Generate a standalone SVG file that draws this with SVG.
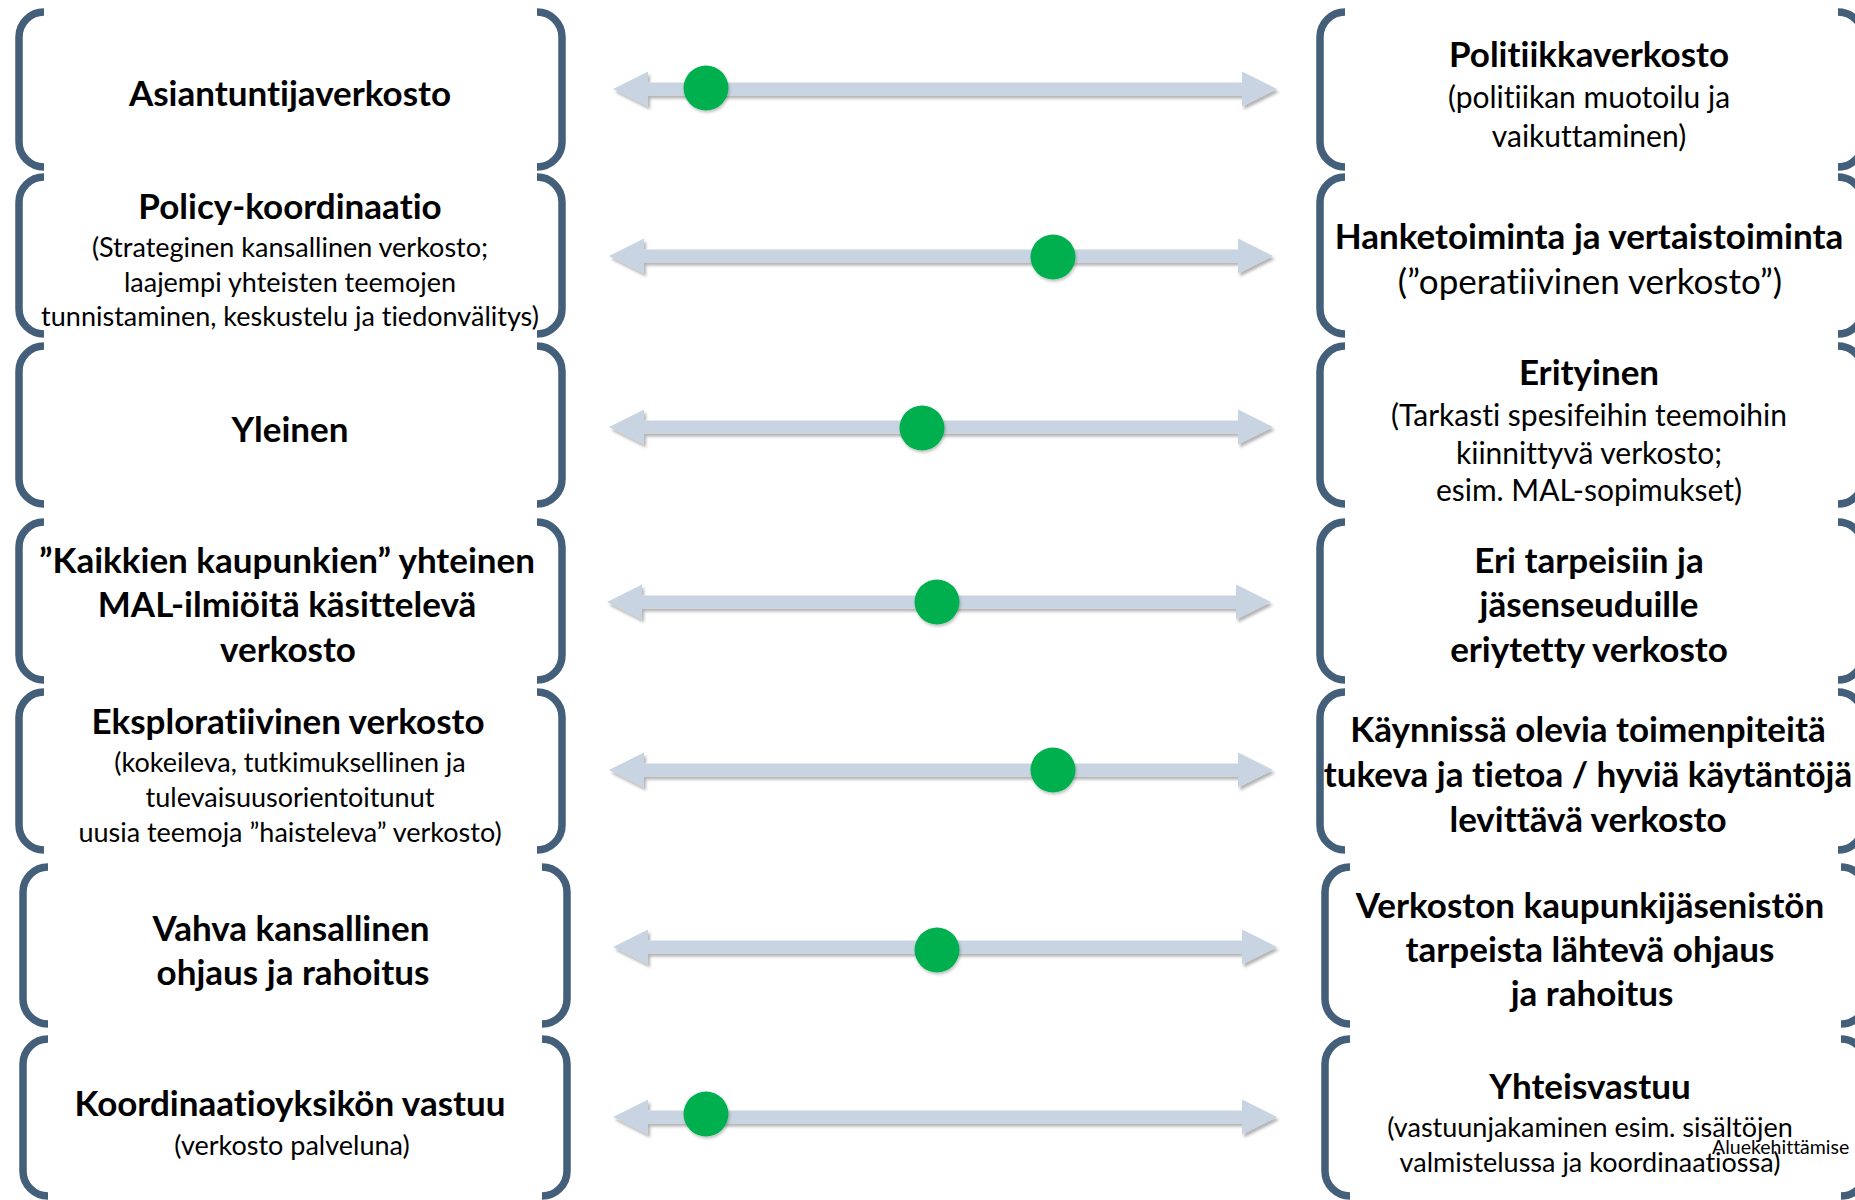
<svg xmlns="http://www.w3.org/2000/svg" width="1855" height="1200" viewBox="0 0 1855 1200">
<style>
.br{fill:none;stroke:#445F7A;stroke-width:7.5}
.t{font-family:Lato,'Open Sans','Liberation Sans',sans-serif;text-anchor:middle;fill:#000;font-variant-ligatures:none;font-feature-settings:"liga" 0,"clig" 0}
.b{font-weight:700;font-size:35px}
.r{font-size:27px}
.r3{font-size:30px}
.r2{font-size:35px}
.sm{font-family:Lato,'Open Sans','Liberation Sans',sans-serif;font-size:19.5px;fill:#000;font-variant-ligatures:none;font-feature-settings:"liga" 0,"clig" 0}
.arr{fill:#C8D4E1;filter:url(#sh)}
.dot{fill:#00B050;filter:url(#dsh)}
</style>
<defs>
<filter id="sh" x="-5%" y="-50%" width="110%" height="200%"><feDropShadow dx="2" dy="3" stdDeviation="1.5" flood-color="#000" flood-opacity="0.3"/></filter>
<filter id="dsh" x="-30%" y="-30%" width="160%" height="160%"><feDropShadow dx="1" dy="2" stdDeviation="1.5" flood-color="#000" flood-opacity="0.25"/></filter>
<path id="arrow" d="M0,0 L35,-17.5 L35,-6.5 L629,-6.5 L629,-17.5 L664,0 L629,17.5 L629,6.5 L35,6.5 L35,17.5 Z"/>
</defs>
<rect width="1855" height="1200" fill="#fff"/>

<g id="connectors">
<use href="#arrow" class="arr" transform="translate(613,89)"/>
<use href="#arrow" class="arr" transform="translate(609,256)"/>
<use href="#arrow" class="arr" transform="translate(609,427)"/>
<use href="#arrow" class="arr" transform="translate(607,602)"/>
<use href="#arrow" class="arr" transform="translate(609,770)"/>
<use href="#arrow" class="arr" transform="translate(613,947)"/>
<use href="#arrow" class="arr" transform="translate(613,1117)"/>
</g>
<g id="markers">
<circle class="dot" cx="706" cy="88" r="22.5"/>
<circle class="dot" cx="1053" cy="257" r="22.5"/>
<circle class="dot" cx="922" cy="428" r="22.5"/>
<circle class="dot" cx="937" cy="602" r="22.5"/>
<circle class="dot" cx="1053" cy="770" r="22.5"/>
<circle class="dot" cx="937" cy="950" r="22.5"/>
<circle class="dot" cx="706" cy="1114" r="22.5"/>
</g>

<g id="left1">
<path class="br" d="M44,12 A25,25 0 0 0 19,37 V142 A25,25 0 0 0 44,167"/>
<path class="br" d="M537,12 A25,25 0 0 1 562,37 V142 A25,25 0 0 1 537,167"/>
<text class="t b" x="290" y="106">Asiantuntijaverkosto</text>
</g>
<g id="right1">
<path class="br" d="M1345,12 A25,25 0 0 0 1320,37 V142 A25,25 0 0 0 1345,167"/>
<path class="br" d="M1838,12 A25,25 0 0 1 1863,37 V142 A25,25 0 0 1 1838,167"/>
<text class="t b" x="1589" y="67">Politiikkaverkosto</text>
<text class="t r3" x="1589" y="108">(politiikan muotoilu ja</text>
<text class="t r3" x="1589" y="147">vaikuttaminen)</text>
</g>

<g id="left2">
<path class="br" d="M44,177 A25,25 0 0 0 19,202 V309 A25,25 0 0 0 44,334"/>
<path class="br" d="M537,177 A25,25 0 0 1 562,202 V309 A25,25 0 0 1 537,334"/>
<text class="t b" x="290" y="219">Policy-koordinaatio</text>
<text class="t r" x="290" y="257">(Strateginen kansallinen verkosto;</text>
<text class="t r" x="290" y="292">laajempi yhteisten teemojen</text>
<text class="t r" x="290" y="326">tunnistaminen, keskustelu ja tiedonvälitys)</text>
</g>
<g id="right2">
<path class="br" d="M1345,177 A25,25 0 0 0 1320,202 V309 A25,25 0 0 0 1345,334"/>
<path class="br" d="M1838,177 A25,25 0 0 1 1863,202 V309 A25,25 0 0 1 1838,334"/>
<text class="t b" x="1589" y="249">Hanketoiminta ja vertaistoiminta</text>
<text class="t r2" x="1590" y="294">(”operatiivinen verkosto”)</text>
</g>

<g id="left3">
<path class="br" d="M44,346 A25,25 0 0 0 19,371 V479 A25,25 0 0 0 44,504"/>
<path class="br" d="M537,346 A25,25 0 0 1 562,371 V479 A25,25 0 0 1 537,504"/>
<text class="t b" x="290" y="442">Yleinen</text>
</g>
<g id="right3">
<path class="br" d="M1345,346 A25,25 0 0 0 1320,371 V479 A25,25 0 0 0 1345,504"/>
<path class="br" d="M1838,346 A25,25 0 0 1 1863,371 V479 A25,25 0 0 1 1838,504"/>
<text class="t b" x="1589" y="385">Erityinen</text>
<text class="t r3" x="1589" y="426">(Tarkasti spesifeihin teemoihin</text>
<text class="t r3" x="1589" y="464">kiinnittyvä verkosto;</text>
<text class="t r3" x="1589" y="501">esim. MAL-sopimukset)</text>
</g>

<g id="left4">
<path class="br" d="M44,522 A25,25 0 0 0 19,547 V655 A25,25 0 0 0 44,680"/>
<path class="br" d="M537,522 A25,25 0 0 1 562,547 V655 A25,25 0 0 1 537,680"/>
<text class="t b" x="287" y="573">”Kaikkien kaupunkien” yhteinen</text>
<text class="t b" x="287" y="617">MAL-ilmiöitä käsittelevä</text>
<text class="t b" x="288" y="662">verkosto</text>
</g>
<g id="right4">
<path class="br" d="M1345,522 A25,25 0 0 0 1320,547 V655 A25,25 0 0 0 1345,680"/>
<path class="br" d="M1838,522 A25,25 0 0 1 1863,547 V655 A25,25 0 0 1 1838,680"/>
<text class="t b" x="1589" y="573">Eri tarpeisiin ja</text>
<text class="t b" x="1589" y="617">jäsenseuduille</text>
<text class="t b" x="1589" y="662">eriytetty verkosto</text>
</g>

<g id="left5">
<path class="br" d="M44,692 A25,25 0 0 0 19,717 V825 A25,25 0 0 0 44,850"/>
<path class="br" d="M537,692 A25,25 0 0 1 562,717 V825 A25,25 0 0 1 537,850"/>
<text class="t b" x="288" y="734">Eksploratiivinen verkosto</text>
<text class="t r" x="290" y="772">(kokeileva, tutkimuksellinen ja</text>
<text class="t r" x="290" y="807">tulevaisuusorientoitunut</text>
<text class="t r" x="290" y="842">uusia teemoja ”haisteleva” verkosto)</text>
</g>
<g id="right5">
<path class="br" d="M1345,692 A25,25 0 0 0 1320,717 V825 A25,25 0 0 0 1345,850"/>
<path class="br" d="M1838,692 A25,25 0 0 1 1863,717 V825 A25,25 0 0 1 1838,850"/>
<text class="t b" x="1588" y="742">Käynnissä olevia toimenpiteitä</text>
<text class="t b" x="1588" y="787">tukeva ja tietoa / hyviä käytäntöjä</text>
<text class="t b" x="1588" y="832">levittävä verkosto</text>
</g>

<g id="left6">
<path class="br" d="M48,867 A25,25 0 0 0 23,892 V999 A25,25 0 0 0 48,1024"/>
<path class="br" d="M542,867 A25,25 0 0 1 567,892 V999 A25,25 0 0 1 542,1024"/>
<text class="t b" x="291" y="941">Vahva kansallinen</text>
<text class="t b" x="293" y="985">ohjaus ja rahoitus</text>
</g>
<g id="right6">
<path class="br" d="M1350,867 A25,25 0 0 0 1325,892 V999 A25,25 0 0 0 1350,1024"/>
<path class="br" d="M1841,867 A25,25 0 0 1 1866,892 V999 A25,25 0 0 1 1841,1024"/>
<text class="t b" x="1590" y="918">Verkoston kaupunkijäsenistön</text>
<text class="t b" x="1590" y="962">tarpeista lähtevä ohjaus</text>
<text class="t b" x="1592" y="1006">ja rahoitus</text>
</g>

<g id="left7">
<path class="br" d="M48,1039 A25,25 0 0 0 23,1064 V1171 A25,25 0 0 0 48,1196"/>
<path class="br" d="M542,1039 A25,25 0 0 1 567,1064 V1171 A25,25 0 0 1 542,1196"/>
<text class="t b" x="290" y="1116">Koordinaatioyksikön vastuu</text>
<text class="t r" x="292" y="1155">(verkosto palveluna)</text>
</g>
<g id="right7">
<path class="br" d="M1350,1039 A25,25 0 0 0 1325,1064 V1171 A25,25 0 0 0 1350,1196"/>
<path class="br" d="M1841,1039 A25,25 0 0 1 1866,1064 V1171 A25,25 0 0 1 1841,1196"/>
<text class="t b" x="1590" y="1099">Yhteisvastuu</text>
<text class="t r" x="1590" y="1137">(vastuunjakaminen esim. sisältöjen</text>
<text class="t r" x="1590" y="1172">valmistelussa ja koordinaatiossa)</text>
<text class="sm" x="1712" y="1154">Aluekehittämise</text>
</g>
</svg>
